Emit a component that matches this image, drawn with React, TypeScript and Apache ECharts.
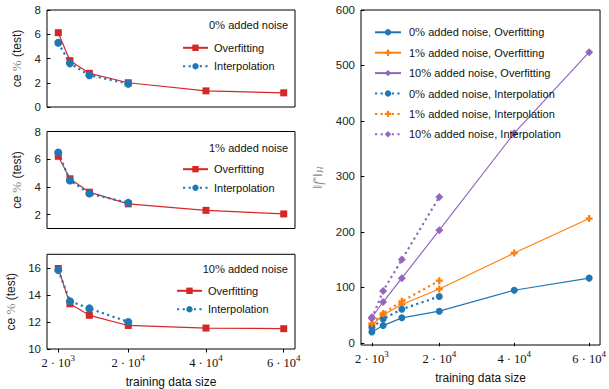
import React, { useEffect, useRef } from "react";
import * as echarts from "echarts";

const xs = [2000, 5000, 10000, 20000, 40000, 60000];
const xsInterp = [2000, 5000, 10000, 20000];
const xTickValues = [2000, 20000, 40000, 60000];
const xTickLabels = ["{b|2 · 10}{s|3}", "{b|2 · 10}{s|4}", "{b|4 · 10}{s|4}", "{b|6 · 10}{s|4}"];

const noise0Over = [6.13, 3.82, 2.78, 2.0, 1.33, 1.17];
const noise0Interp = [5.3, 3.6, 2.62, 1.92];
const noise1Over = [6.21, 4.59, 3.62, 2.78, 2.31, 2.05];
const noise1Interp = [6.48, 4.47, 3.52, 2.85];
const noise10Over = [15.95, 13.34, 12.49, 11.74, 11.55, 11.5];
const noise10Interp = [15.83, 13.53, 13.0, 12.0];

const norm0Over = [19.5, 31, 45, 57, 94.7, 116.6];
const norm0Interp = [27.6, 43, 60.6, 83.6];
const norm1Over = [32, 50, 69, 97, 161.8, 224];
const norm1Interp = [35, 53, 74.7, 112];
const norm10Over = [46, 73.5, 116.5, 203, 378, 524];
const norm10Interp = [44, 93.5, 150, 263];

const leftTicks0 = [0, 2, 4, 6, 8];
const leftTicks1 = [2, 4, 6, 8];
const leftTicks10 = [10, 12, 14, 16];
const rightTicks = [0, 100, 200, 300, 400, 500, 600];

const noiseLevels = ["0", "1", "10"];
const rightNames = [
  "0% added noise, Overfitting",
  "1% added noise, Overfitting",
  "10% added noise, Overfitting",
  "0% added noise, Interpolation",
  "1% added noise, Interpolation",
  "10% added noise, Interpolation",
];

const SANS = "Liberation Sans";
const SERIF = "Liberation Serif";
const RED = "#d62728";
const BLUE = "#1f77b4";
const ORANGE = "#ff7f0e";
const PURPLE = "#9467bd";
const PLUS = "path://M2,0H4V2H6V4H4V6H2V4H0V2H2Z";
const DOT: number[] = [2.2, 3.4];

const pairs = (x: number[], y: number[]) => x.map((v, i) => [v, y[i]]);

export default function App() {
  const ref = useRef<HTMLDivElement>(null);
  useEffect(() => {
    if (!ref.current) return;
    const chart = echarts.init(ref.current, undefined, { renderer: "svg" });

    const grids = [
      { left: 47, top: 10, width: 248, height: 97 },
      { left: 47, top: 131.5, width: 248, height: 97 },
      { left: 47, top: 254.3, width: 248, height: 96.7 },
      { left: 361, top: 10, width: 247.5, height: 340.7 },
    ].map((g) => ({ ...g, show: true, borderColor: "#000", borderWidth: 1, containLabel: false }));

    const xAxis = grids.map((_, i) => {
      const withLabels = i >= 2;
      return {
        type: "value",
        gridIndex: i,
        min: -900,
        max: 62900,
        splitLine: { show: false },
        axisLine: { show: false },
        axisTick: {
          show: withLabels,
          customValues: xTickValues,
          length: 3.5,
          lineStyle: { color: "#000" },
        },
        axisLabel: {
          show: withLabels,
          customValues: xTickValues,
          margin: 4,
          formatter: (v: number) => xTickLabels[xTickValues.indexOf(v)] ?? "",
          color: "#111",
          rich: {
            b: { fontFamily: SERIF, fontSize: 12.5, lineHeight: 16, verticalAlign: "bottom", color: "#111" },
            s: { fontFamily: SERIF, fontSize: 9, lineHeight: 16, verticalAlign: "top", color: "#111" },
          },
        },
        name: withLabels ? "training data size" : "",
        nameLocation: "middle",
        nameGap: 27,
        nameTextStyle: { fontFamily: SANS, fontSize: 12, color: "#111" },
      };
    });

    const ceName = "{a|ce }{p|%}{a| (test)}";
    const ceRich = {
      a: { fontFamily: SANS, fontSize: 12, color: "#222" },
      p: { fontFamily: SERIF, fontSize: 13, color: "#888" },
    };
    const yCommon = (i: number, min: number, max: number, ticks: number[]) => ({
      type: "value",
      gridIndex: i,
      min,
      max,
      splitLine: { show: false },
      axisLine: { show: false },
      axisTick: { show: true, customValues: ticks, length: 3.5, lineStyle: { color: "#000" } },
      axisLabel: {
        customValues: ticks,
        fontFamily: SANS,
        fontSize: 11.5,
        color: "#222",
        margin: 6,
      },
      nameLocation: "middle",
    });

    const yAxis = [
      { ...yCommon(0, 0, 8, leftTicks0), name: ceName, nameGap: 24, nameTextStyle: { rich: ceRich } },
      { ...yCommon(1, 1, 8, leftTicks1), name: ceName, nameGap: 24, nameTextStyle: { rich: ceRich } },
      { ...yCommon(2, 10, 17, leftTicks10), name: ceName, nameGap: 30, nameTextStyle: { rich: ceRich } },
      {
        ...yCommon(3, -4, 600, rightTicks),
        name: "{n|‖}{i|f}{s|*}{n|‖}{h|H}",
        nameGap: 37,
        nameTextStyle: {
          rich: {
            n: { fontFamily: SERIF, fontSize: 13, color: "#888" },
            i: { fontFamily: SERIF, fontSize: 13, fontStyle: "italic", color: "#888" },
            s: { fontFamily: SERIF, fontSize: 9, color: "#888", verticalAlign: "top" },
            h: { fontFamily: SERIF, fontSize: 9, fontStyle: "italic", color: "#888", verticalAlign: "bottom" },
          },
        },
      },
    ];

    const leftData = [
      [noise0Over, noise0Interp],
      [noise1Over, noise1Interp],
      [noise10Over, noise10Interp],
    ];

    const series: any[] = [];
    leftData.forEach(([over, interp], i) => {
      series.push({
        type: "line",
        name: "Overfitting",
        xAxisIndex: i,
        yAxisIndex: i,
        data: pairs(xs, over),
        symbol: "rect",
        symbolSize: 7,
        showSymbol: true,
        itemStyle: { color: RED },
        lineStyle: { color: RED, width: 1.2 },
      });
      series.push({
        type: "line",
        name: "Interpolation",
        xAxisIndex: i,
        yAxisIndex: i,
        data: pairs(xsInterp, interp),
        symbol: "circle",
        symbolSize: 8,
        itemStyle: { color: BLUE },
        lineStyle: { color: BLUE, width: 2.2, type: DOT, cap: "butt" },
      });
    });

    const rightOver = [norm0Over, norm1Over, norm10Over];
    const rightInterp = [norm0Interp, norm1Interp, norm10Interp];
    const colors = [BLUE, ORANGE, PURPLE];
    const symbols = ["circle", PLUS, "diamond"];
    const sizes = [7, 7, 8];
    rightOver.forEach((d, k) => {
      series.push({
        type: "line",
        name: rightNames[k],
        xAxisIndex: 3,
        yAxisIndex: 3,
        data: pairs(xs, d),
        symbol: symbols[k],
        symbolSize: sizes[k],
        itemStyle: { color: colors[k] },
        lineStyle: { color: colors[k], width: 1.2 },
      });
    });
    rightInterp.forEach((d, k) => {
      series.push({
        type: "line",
        name: rightNames[k + 3],
        xAxisIndex: 3,
        yAxisIndex: 3,
        data: pairs(xsInterp, d),
        symbol: symbols[k],
        symbolSize: sizes[k],
        itemStyle: { color: colors[k] },
        lineStyle: { color: colors[k], width: 2.2, type: DOT, cap: "butt" },
      });
    });

    const legendText = {
      fontFamily: SANS,
      fontSize: 11,
      color: "#111",
      rich: { p: { fontFamily: SERIF, fontSize: 12, color: "#111" } },
    };
    const leftLegendPos = [
      { left: 177, top: 37.3 },
      { left: 177, top: 158.7 },
      { left: 171, top: 280.3 },
    ];
    const legend: any[] = leftLegendPos.map((p) => ({
      ...p,
      orient: "vertical",
      data: ["Overfitting", "Interpolation"],
      itemWidth: 25,
      itemHeight: 8,
      itemGap: 7.5,
      selectedMode: false,
      textStyle: { ...legendText, padding: [0, 0, 0, 1] },
    }));
    legend.push({
      left: 369,
      top: 21.3,
      orient: "vertical",
      data: rightNames,
      itemWidth: 26,
      itemHeight: 8,
      itemGap: 8.4,
      selectedMode: false,
      formatter: (n: string) => n.replace("%", "{p|%}"),
      textStyle: { ...legendText, padding: [0, 0, 0, 3] },
    });

    const titlePos = [
      { x: 209, y: 25 },
      { x: 209, y: 147.7 },
      { x: 202.7, y: 269 },
    ];
    const graphic = titlePos.map((p, i) => ({
      type: "text",
      x: p.x,
      y: p.y,
      style: {
        text: `{a|${noiseLevels[i]}}{p|%}{a| added noise}`,
        verticalAlign: "middle",
        rich: {
          a: { fontFamily: SANS, fontSize: 11, fill: "#111" },
          p: { fontFamily: SERIF, fontSize: 12, fill: "#111" },
        },
      },
    }));

    chart.setOption({
      animation: false,
      backgroundColor: "#fff",
      grid: grids,
      xAxis,
      yAxis,
      series,
      legend,
      graphic,
    });
    return () => chart.dispose();
  }, []);

  return <div ref={ref} style={{ width: 609, height: 389, position: "absolute", left: 0, top: 0 }} />;
}
